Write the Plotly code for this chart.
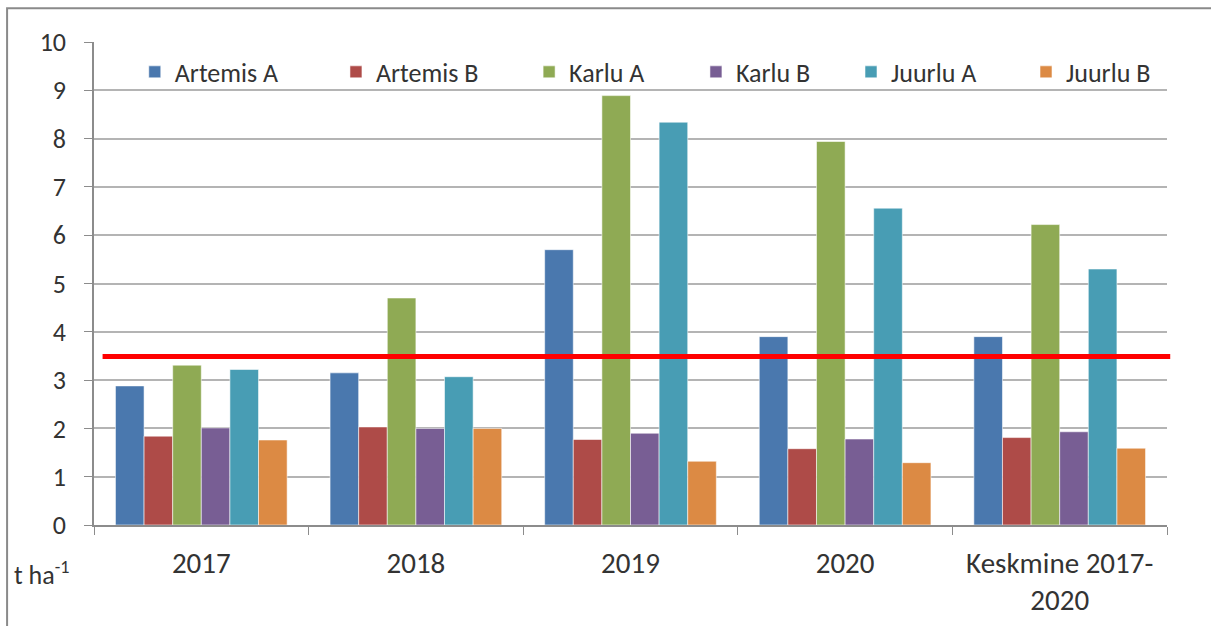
"""Saagikus sortide kaupa, 2017-2020 (t ha-1)."""

import plotly.graph_objects as go

# ---------------------------------------------------------------------------
# Data
# ---------------------------------------------------------------------------

categories = ["2017", "2018", "2019", "2020", "Keskmine 2017-<br>2020"]

artemis_a = [2.88, 3.15, 5.70, 3.90, 3.90]
artemis_b = [1.84, 2.03, 1.77, 1.58, 1.81]
karlu_a = [3.31, 4.70, 8.89, 7.94, 6.22]
karlu_b = [2.01, 2.00, 1.90, 1.78, 1.93]
juurlu_a = [3.22, 3.07, 8.34, 6.56, 5.30]
juurlu_b = [1.76, 2.00, 1.32, 1.29, 1.59]

threshold = 3.49

series = [
    ("Artemis A", artemis_a, "#4a78ae"),
    ("Artemis B", artemis_b, "#ae4b48"),
    ("Karlu A", karlu_a, "#8faa54"),
    ("Karlu B", karlu_b, "#785e94"),
    ("Juurlu A", juurlu_a, "#489db4"),
    ("Juurlu B", juurlu_b, "#dc8a44"),
]

# Excel spreads legend entries unevenly, so each entry gets its own legend box
legend_x = [0.038, 0.2255, 0.4055, 0.561, 0.7055, 0.8686]

FONT = "Calibri, Carlito, Lato, sans-serif"
TEXT = "#333333"
AXIS_GRAY = "#8c8c8c"
GRID_GRAY = "#b4b4b4"

# ---------------------------------------------------------------------------
# Figure
# ---------------------------------------------------------------------------

fig = go.Figure()
legends = {}
for i, ((name, values, color), lx) in enumerate(zip(series, legend_x)):
    key = "legend" if i == 0 else f"legend{i + 1}"
    fig.add_trace(go.Bar(
        name=name, x=categories, y=values, legend=key, showlegend=True,
        marker=dict(color=color, line=dict(color="rgba(255,255,255,0.55)", width=1)),
    ))
    legends[key] = dict(
        orientation="h", x=lx, y=0.938, xanchor="left", yanchor="middle",
        font=dict(size=26, color=TEXT), bgcolor="rgba(0,0,0,0)",
    )

# red reference line across the plot
fig.add_shape(
    type="line", xref="paper", yref="y",
    x0=0.008, x1=1.003, y0=threshold, y1=threshold,
    line=dict(color="#ff0000", width=5), layer="above",
)

# outer chart frame (cropped at right and bottom in the original)
fig.add_shape(
    type="rect", xref="paper", yref="paper",
    x0=-0.081, x1=1.2, y0=-0.4, y1=1.07,
    line=dict(color="#8a8a8a", width=2), layer="below",
)

fig.add_annotation(
    text="t ha<sup>-1</sup>", xref="paper", yref="paper",
    x=-0.076, y=-0.1, xanchor="left", yanchor="middle",
    showarrow=False, font=dict(family=FONT, size=26, color=TEXT),
)

fig.update_layout(
    width=1211, height=626,
    margin=dict(l=94, r=44, t=42, b=101),
    paper_bgcolor="white", plot_bgcolor="white",
    font=dict(family=FONT, color=TEXT),
    showlegend=True,
    barmode="group", bargap=0.2, bargroupgap=0,
    xaxis=dict(
        showline=True, linecolor=AXIS_GRAY, linewidth=1.5,
        ticks="outside", tickson="boundaries", ticklen=8, tickcolor=AXIS_GRAY,
        tickfont=dict(size=29), ticklabelstandoff=11, showgrid=False,
        automargin=False,
    ),
    yaxis=dict(
        range=[0, 10], dtick=1, showline=True, linecolor=AXIS_GRAY, linewidth=1.5,
        ticks="outside", ticklen=8, tickcolor=AXIS_GRAY,
        gridcolor=GRID_GRAY, gridwidth=1.5, zeroline=False,
        tickfont=dict(size=26), ticklabelstandoff=13, automargin=False,
    ),
    **legends,
)

fig.write_html(
    "out.html",
    config={"displayModeBar": False},
    post_script="document.body.style.margin = '0';",
)
